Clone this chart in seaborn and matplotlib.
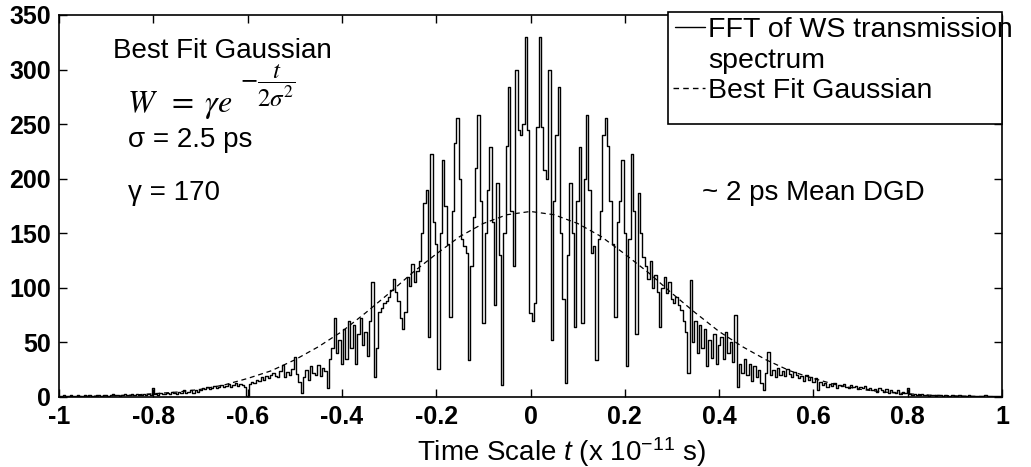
import numpy as np
import pandas as pd
import matplotlib
matplotlib.use("Agg")
import matplotlib.pyplot as plt
from matplotlib.patches import Rectangle
import seaborn as sns

# ---------------- data ----------------
# FFT of WS transmission spectrum, sampled every 0.005 (x 1e-11 s) from -1 to 1
fft_left = [1, 1, 2, 1, 1, 2, 1, 1, 2, 1, 1, 2, 1, 2, 1, 1, 2, 2, 1, 2,
            2, 1, 2, 3, 2, 2, 1, 2, 3, 2, 2, 3, 2, 3, 2, 2, 3, 2, 3, 2,
            8, 3, 2, 4, 3, 3, 4, 3, 5, 4, 3, 5, 4, 6, 4, 5, 6, 4, 6, 5,
            6, 8, 7, 9, 7, 8, 10, 8, 9, 11, 9, 10, 12, 9, 11, 13, 10, 12, 11, 9,
            1,
            12, 14, 13, 16, 15, 18, 16, 19, 17, 20, 22, 19, 18, 24, 29, 18, 23, 20, 26,
            37, 21, 14, 4]
fft_center = [18, 25, 16, 28, 22, 20, 29, 19, 27, 24,
              8, 35, 45, 72, 40, 52, 30,
              62, 35, 70, 45, 66, 30, 58, 72, 48,
              60, 38, 70, 105, 18, 45, 78, 82, 86, 88,
              92, 98, 108, 96, 88, 72, 62, 78, 110, 102,
              122, 105, 115, 125, 150, 178, 190, 55, 223, 160,
              140, 26, 150, 217, 175, 140, 73, 170, 233, 256,
              200, 145, 138, 132, 34, 120, 165, 210, 258, 180,
              68, 150, 190, 229, 160, 84, 196, 130, 11, 150,
              230, 284, 170, 120, 300, 245, 240, 250, 330, 245,
              77, 70, 86, 247, 330, 247, 208, 200, 300, 52,
              180, 240, 284, 150, 90, 13, 130, 196, 150, 64,
              180, 229, 68, 200, 258, 190, 132, 138, 34, 145,
              170, 240, 256, 230, 180, 140, 73, 160, 180, 217,
              150, 28, 145, 223, 170, 58, 187, 150, 128, 120,
              108, 125, 100, 112, 96, 64, 100, 110, 95, 105,
              90, 86, 92, 84, 80, 70, 60, 22, 107, 50,
              70, 40, 66, 45, 62, 28, 52, 36, 58, 30,
              48, 55, 35, 60, 40, 50, 32, 75, 9, 30,
              22, 35, 20, 30, 15, 28, 18, 25, 13, 6,
              22]
fft_right = [41, 20,
             25, 18, 27, 20, 24, 19, 26, 21, 18, 23, 20,
             17, 19, 15, 20, 16, 18, 14, 17,
             6,
             14, 11, 13, 9, 12, 10, 13, 8, 11, 10, 12, 9, 8, 11, 9, 10, 7, 9, 8, 10, 7,
             8, 6, 7, 5, 8, 6, 5, 7, 4, 6, 5, 4, 6, 3, 5, 4, 8,
             3, 2, 3, 2, 2, 3, 2, 2, 1, 2, 2, 1, 2, 2, 1, 2, 1, 1, 2, 1,
             1, 2, 1, 1, 1, 2, 1, 1, 1, 1, 1, 1, 2, 1, 1, 1, 1, 1, 1, 1]

# Best fit Gaussian, sampled every 0.05
gauss_w = [0.3, 0.5, 1, 1.6, 3, 4.5, 7, 11, 17, 24, 34, 46, 60, 77, 95, 114, 131,
           147, 159, 167, 170, 167, 159, 147, 131, 114, 95, 77, 60, 46, 34, 24, 17,
           11, 7, 4.5, 3, 1.6, 1, 0.5, 0.3]

xtick_vals = [-1, -0.8, -0.6, -0.4, -0.2, 0, 0.2, 0.4, 0.6, 0.8, 1]
xtick_labels = ["-1", "-0.8", "-0.6", "-0.4", "-0.2", "0", "0.2", "0.4", "0.6", "0.8", "1"]
ytick_vals = [0, 50, 100, 150, 200, 250, 300, 350]

legend_labels = ["FFT of WS transmission", "spectrum", "Best Fit Gaussian"]

# ---------------- build tables ----------------
fft_w = fft_left + fft_center + fft_right
fft_t = np.linspace(-1, 1, len(fft_w))
gauss_t = np.linspace(-1, 1, len(gauss_w))
df_fft = pd.DataFrame({"t": fft_t, "W": fft_w})
df_gauss = pd.DataFrame({"t": gauss_t, "W": gauss_w})

# ---------------- style ----------------
sns.set_style("ticks")
plt.rcParams["font.family"] = ["Liberation Sans", "DejaVu Sans"]
plt.rcParams["axes.unicode_minus"] = False
plt.rcParams["mathtext.fontset"] = "custom"
plt.rcParams["mathtext.rm"] = "Liberation Sans"
plt.rcParams["mathtext.it"] = "Liberation Sans:italic"
plt.rcParams["mathtext.bf"] = "Liberation Sans:bold"
plt.rcParams["text.color"] = "black"
plt.rcParams["axes.labelcolor"] = "black"
plt.rcParams["xtick.color"] = "black"
plt.rcParams["ytick.color"] = "black"

W, H = 1031, 467
fig = plt.figure(figsize=(W / 100, H / 100), dpi=100)
fig.patch.set_facecolor("white")
L, R, T, B = 59, 1002, 15, 397
ax = fig.add_axes([L / W, 1 - B / H, (R - L) / W, (B - T) / H])
ax.set_facecolor("white")

sns.lineplot(data=df_fft, x="t", y="W", ax=ax, color="black", lw=1.0,
             drawstyle="steps-mid", estimator=None, legend=False)
sns.lineplot(data=df_gauss, x="t", y="W", ax=ax, color="black", lw=0.9,
             linestyle=(0, (4, 3)), estimator=None, legend=False)

ax.set_xlim(-1, 1)
ax.set_ylim(0, 350)
ax.set_xticks(xtick_vals)
ax.set_xticklabels(xtick_labels)
ax.set_yticks(ytick_vals)
ax.tick_params(direction="in", top=True, right=True, length=6, width=1,
               labelsize=18, pad=6, colors="black")
for lbl in ax.get_xticklabels() + ax.get_yticklabels():
    lbl.set_fontweight("bold")
for sp in ax.spines.values():
    sp.set_color("black")
    sp.set_linewidth(1.2)

ax.set_ylabel("")
ax.set_xlabel(r"Time Scale $t$ (x 10$^{-11}$ s)", fontsize=20, color="black")
ax.xaxis.label.set_va("center")
ax.xaxis.set_label_coords((561 - L) / (R - L), (B - 452) / (B - T))

# ---------------- annotations ----------------
def fx(px):
    return (px - L) / (R - L)

def fy(py):
    return (B - py) / (B - T)

tr = ax.transAxes
ax.text(fx(113), fy(58), "Best Fit Gaussian", fontsize=20, va="baseline", ha="left",
        transform=tr, color="black")
ax.text(fx(127), fy(112), r"$W\;\;=\;\gamma e$", fontsize=23, va="baseline",
        ha="left", math_fontfamily="stix", transform=tr, color="black")
ax.text(fx(240), fy(86), r"$-\dfrac{t}{2\sigma^{2}}$", fontsize=18, va="center",
        ha="left", math_fontfamily="stix", transform=tr, color="black")
ax.text(fx(128), fy(147), "σ = 2.5 ps", fontsize=20, va="baseline", ha="left",
        transform=tr, color="black")
ax.text(fx(128), fy(200), "γ = 170", fontsize=20, va="baseline", ha="left",
        transform=tr, color="black")
ax.text(fx(702), fy(200), "~ 2 ps Mean DGD", fontsize=20, va="baseline", ha="left",
        transform=tr, color="black")

# ---------------- legend (box drawn as in the original, text overflowing) ----------------
ax.add_patch(Rectangle((fx(668), fy(124)), 1 - fx(668), fy(12) - fy(124),
                       transform=tr, facecolor="white", edgecolor="black",
                       lw=1.2, zorder=5, clip_on=False))
ax.plot([fx(675), fx(705)], [fy(27), fy(27)], transform=tr,
        color="black", lw=1.0, zorder=6, clip_on=False)
ax.plot([fx(673), fx(705)], [fy(88), fy(88)], transform=tr,
        color="black", lw=1.0, ls=(0, (4, 3)), zorder=6, clip_on=False)
ax.text(fx(708), fy(37), legend_labels[0], fontsize=20.5, va="baseline", ha="left",
        zorder=7, clip_on=False, transform=tr, color="black")
ax.text(fx(708), fy(68), legend_labels[1], fontsize=20.5, va="baseline", ha="left",
        zorder=7, clip_on=False, transform=tr, color="black")
ax.text(fx(708), fy(98), legend_labels[2], fontsize=20.5, va="baseline", ha="left",
        zorder=7, clip_on=False, transform=tr, color="black")

fig.savefig("out.png", dpi=100, facecolor="white")
